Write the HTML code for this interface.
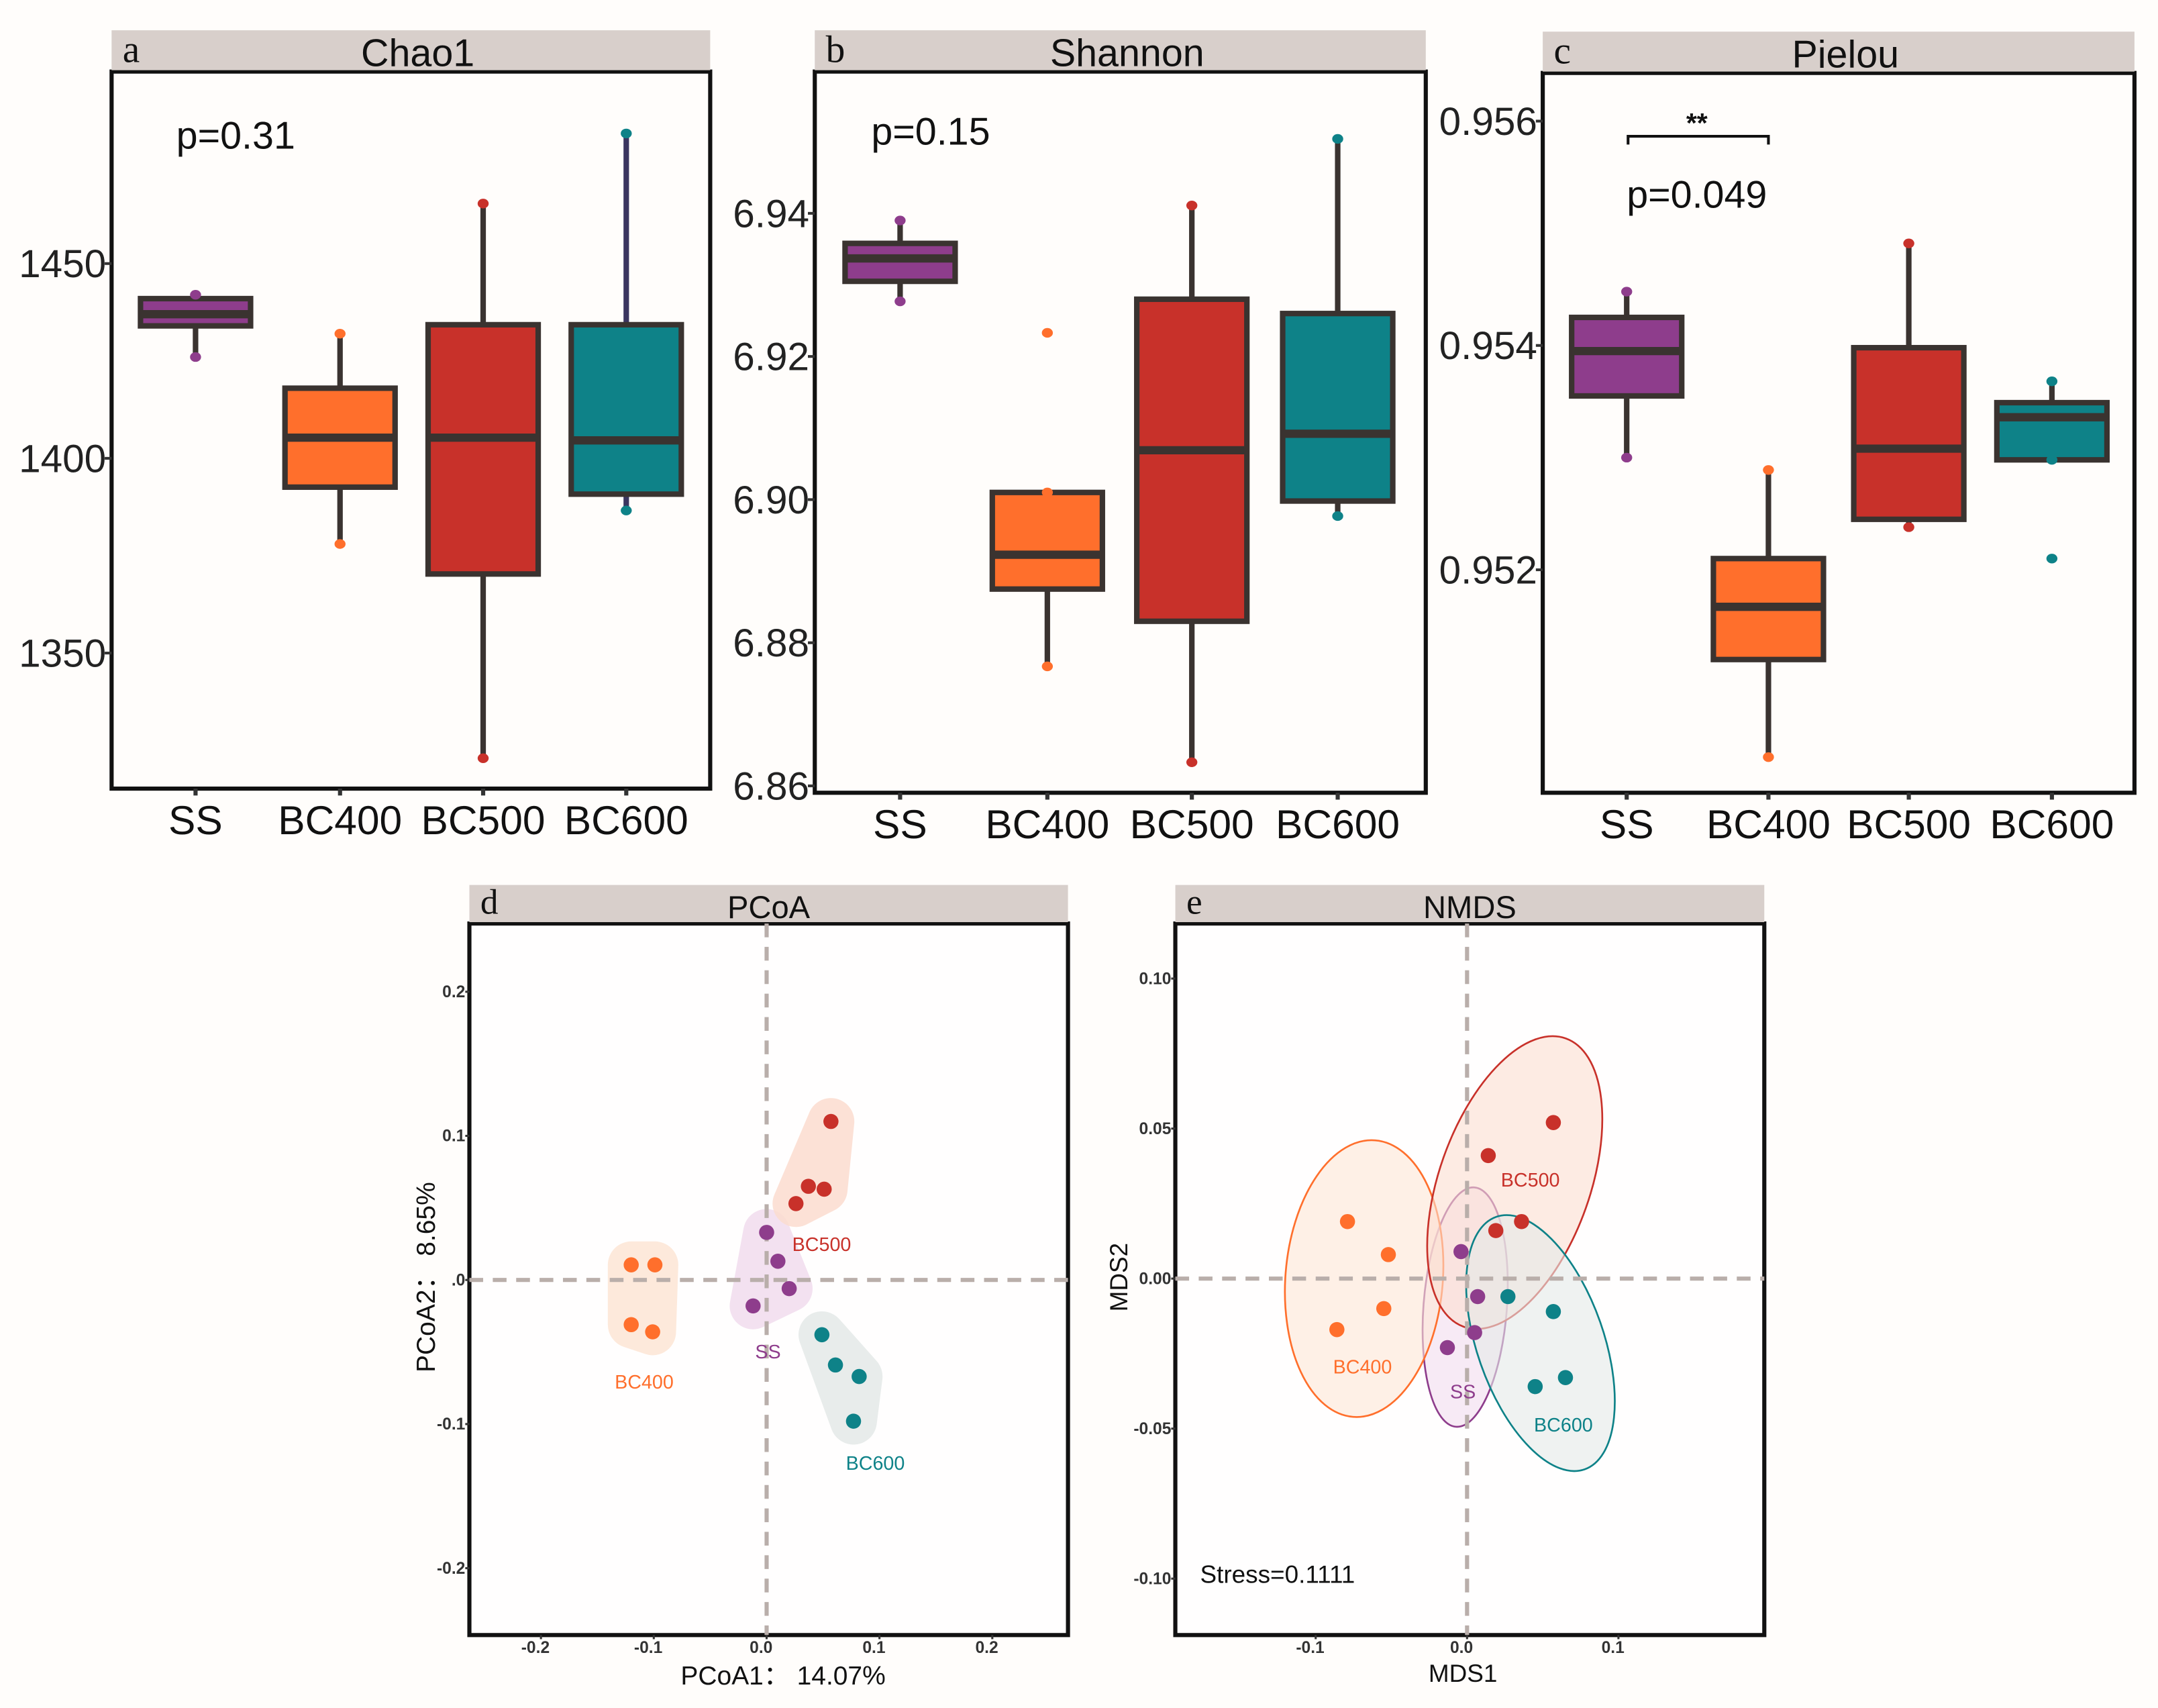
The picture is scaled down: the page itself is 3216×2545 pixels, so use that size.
<!DOCTYPE html>
<html><head><meta charset="utf-8">
<style>
html,body{margin:0;padding:0;background:#fffdfb;}
svg{display:block;font-family:"Liberation Sans",sans-serif;}
</style></head>
<body>
<svg id="fig" width="3216" height="2545" viewBox="0 0 1568 1241" xmlns="http://www.w3.org/2000/svg">
<rect x="0" y="0" width="1568" height="1241" fill="#fffdfb"/>
</svg>
<script>
// ---------- data ----------
const groups = ["SS","BC400","BC500","BC600"];
const colors = ["#8e3d8c","#ff6f2c","#c8312a","#0e8288"];
const hullFills = ["#f1dcee","#fde6d6","#fcddd0","#e4e9e8"];
// boxplot stats: [min, q1, median, q3, max]
const chaoStats = [[1426,1434,1437,1441,1442],[1378,1392.6,1405.3,1418,1432],[1323,1370.3,1405.3,1434.3,1465.4],[1386.6,1390.8,1404.6,1434.3,1483.4]];
const chaoTicks = [1350,1400,1450];
const shannonStats = [[6.9277,6.9305,6.9337,6.9358,6.939],[6.8767,6.8875,6.8923,6.901,6.901],[6.8633,6.883,6.9069,6.928,6.9411],[6.8977,6.8998,6.9092,6.926,6.9504]];
const shannonOutliers = [[],[6.9233],[],[]];
const shannonTicks = [6.86,6.88,6.90,6.92,6.94];
const pielouStats = [[0.9530,0.95355,0.95395,0.95425,0.95448],[0.95033,0.9512,0.95167,0.9521,0.95289],[0.95238,0.95245,0.95308,0.95398,0.95491],[0.95298,0.95298,0.95336,0.95349,0.95368]];
const pielouOutliers = [[],[],[],[0.9521]];
const pielouTicks = [0.952,0.954,0.956];
// PCoA points per group
const pcoaX = [[0.0,0.010,0.020,-0.012],[-0.120,-0.099,-0.120,-0.101],[0.057,0.037,0.051,0.026],[0.049,0.061,0.082,0.077]];
const pcoaY = [[0.033,0.013,-0.006,-0.018],[0.0105,0.0105,-0.031,-0.036],[0.110,0.065,0.063,0.053],[-0.038,-0.059,-0.067,-0.098]];
const pcoaTicks = [-0.2,-0.1,0.0,0.1,0.2];
// NMDS points per group
const nmdsX = [[-0.004,0.007,0.005,-0.013],[-0.079,-0.052,-0.055,-0.086],[0.057,0.014,0.036,0.019],[0.027,0.057,0.065,0.045]];
const nmdsY = [[0.009,-0.006,-0.018,-0.023],[0.019,0.008,-0.010,-0.017],[0.052,0.041,0.019,0.016],[-0.006,-0.011,-0.033,-0.036]];
const nmdsXTicks = [-0.1,0.0,0.1];
const nmdsYTicks = [-0.10,-0.05,0.00,0.05,0.10];

// ---------- helpers ----------
const svg = document.getElementById('fig');
const NS = "http://www.w3.org/2000/svg";
function mk(tag, attrs, parent){
  const e = document.createElementNS(NS, tag);
  for (const k in attrs) e.setAttribute(k, attrs[k]);
  (parent||svg).appendChild(e);
  return e;
}
function txt(x,y,s,size,extra,parent){
  const t = mk('text', Object.assign({x:x,y:y,'font-size':size,fill:'#111'}, extra||{}), parent);
  t.textContent = s;
  return t;
}
const STROKE = "#3a3330";

function strip(x0,x1,y0,y1,letter,title,big){
  const r = mk('rect',{x:x0,y:y0,width:x1-x0,height:y1-y0,fill:'#d8cfcb'});
  
  
  const l = txt(x0+8,y1-6,letter,big?28:26,{'font-family':'"Liberation Serif",serif'});
  
  
  const t = txt((x0+x1)/2+(big?5:0),y1-3,title,big?28:23,{'text-anchor':'middle'});
  
  
}

function boxPanel(cfg){
  const g = mk('g',{});
  
  
  strip(cfg.x0,cfg.x1,cfg.sy,cfg.y0-1,cfg.letter,cfg.title,true);
  const y = v => cfg.yRef + (v-cfg.vRef)*cfg.k;
  const fr = mk('rect',{x:cfg.x0,y:cfg.y0,width:cfg.x1-cfg.x0,height:cfg.y1-cfg.y0,fill:'#fffdfb',stroke:'#111','stroke-width':3},g);
  
  
  cfg.ticks.forEach(v=>{
    mk('line',{x1:cfg.x0-5,x2:cfg.x0,y1:y(v),y2:y(v),stroke:'#333','stroke-width':2},g);
    const t = txt(cfg.x0-4,y(v)+10,cfg.fmt(v),28.5,{'text-anchor':'end',fill:'#222'},g);
    
    
  });
  groups.forEach((name,i)=>{
    const cx = cfg.cx[i], s = cfg.stats[i], w = 40;
    const bg = mk('g',{},g);
    
    
    mk('line',{x1:cx,x2:cx,y1:y(s[0]),y2:y(s[4]),stroke:(cfg.name==='chao1'&&i===3)?'#3a3560':STROKE,'stroke-width':4},bg);
    mk('rect',{x:cx-w,y:y(s[3]),width:2*w,height:y(s[1])-y(s[3]),fill:colors[i],stroke:STROKE,'stroke-width':4},bg);
    mk('line',{x1:cx-w,x2:cx+w,y1:y(s[2]),y2:y(s[2]),stroke:STROKE,'stroke-width':6},bg);
    [s[0],s[4]].concat(cfg.out?cfg.out[i]:[]).forEach(v=>{
      const p = mk('ellipse',{cx:cx,cy:y(v),rx:4,ry:3.5,fill:colors[i]},bg);
      
      
    });
    mk('line',{x1:cx,x2:cx,y1:cfg.y1,y2:cfg.y1+5,stroke:'#333','stroke-width':3},g);
    const t = txt(cx,cfg.y1+33,name,29.5,{'text-anchor':'middle'},g);
    
    
  });
  return {g:g,y:y};
}

// panel a
const pa = boxPanel({name:'chao1',title:'Chao1',letter:'a',x0:81,x1:516,sy:22,y0:52,y1:573,yRef:333,vRef:1400,k:-141.5/50,
  ticks:chaoTicks,fmt:v=>String(v),stats:chaoStats,cx:[142,247,351,455]});
let t = txt(128,108,'p=0.31',28,{},pa.g);



// panel b
const pb = boxPanel({name:'shannon',title:'Shannon',letter:'b',x0:592,x1:1036,sy:22,y0:52,y1:576,yRef:363,vRef:6.90,k:-5200,
  ticks:shannonTicks,fmt:v=>v.toFixed(2),stats:shannonStats,out:shannonOutliers,cx:[654,761,866,972]});
t = txt(633,105,'p=0.15',28,{},pb.g);



// panel c
const pc = boxPanel({name:'pielou',title:'Pielou',letter:'c',x0:1121,x1:1551,sy:23,y0:53,y1:576,yRef:251,vRef:0.954,k:-163/0.002,
  ticks:pielouTicks,fmt:v=>v.toFixed(3),stats:pielouStats,out:pielouOutliers,cx:[1182,1285,1387,1491]});
mk('path',{d:'M1183,105 V99 H1285 V105',fill:'none',stroke:'#111','stroke-width':2},pc.g);
t = txt(1233,96,'**',20,{'text-anchor':'middle','font-weight':'bold'},pc.g);


t = txt(1182,151,'p=0.049',28,{},pc.g);



// ---------- scatter panels ----------
function hull(pts){
  pts = pts.slice().sort((a,b)=>a[0]-b[0]||a[1]-b[1]);
  const cr=(o,a,b)=>(a[0]-o[0])*(b[1]-o[1])-(a[1]-o[1])*(b[0]-o[0]);
  const lo=[],up=[];
  for(const p of pts){while(lo.length>=2&&cr(lo[lo.length-2],lo[lo.length-1],p)<=0)lo.pop();lo.push(p);}
  for(const p of pts.slice().reverse()){while(up.length>=2&&cr(up[up.length-2],up[up.length-1],p)<=0)up.pop();up.push(p);}
  return lo.slice(0,-1).concat(up.slice(0,-1));
}
function scatterFrame(cfg){
  const g = mk('g',{});
  
  
  strip(cfg.x0,cfg.x1,643,670,cfg.letter,cfg.title,false);
  const fr = mk('rect',{x:cfg.x0,y:cfg.y0,width:cfg.x1-cfg.x0,height:cfg.y1-cfg.y0,fill:'#fffefe',stroke:'#111','stroke-width':3},g);
  
  
  return g;
}
function dashes(g,X,Y,cfg){
  mk('line',{x1:cfg.x0,x2:cfg.x1,y1:Y(0),y2:Y(0),stroke:'#b9aeaa','stroke-width':3,'stroke-dasharray':'10,7'},g);
  mk('line',{x1:X(0),x2:X(0),y1:cfg.y0,y2:cfg.y1,stroke:'#b9aeaa','stroke-width':3,'stroke-dasharray':'10,7'},g);
}
function ticks(g,X,Y,cfg,xt,yt,xf,yf){
  xt.forEach(v=>{
    mk('line',{x1:X(v),x2:X(v),y1:cfg.y1,y2:cfg.y1+3,stroke:'#333','stroke-width':1.5},g);
    const tt=txt(X(v)-4,cfg.y1+13,xf(v),12,{'text-anchor':'middle','font-weight':'bold',fill:'#333'},g);
    
    
  });
  yt.forEach(v=>{
    mk('line',{x1:cfg.x0-3,x2:cfg.x0,y1:Y(v),y2:Y(v),stroke:'#333','stroke-width':1.5},g);
    const tt=txt(cfg.x0-3,Y(v)+4,yf(v),12,{'text-anchor':'end','font-weight':'bold',fill:'#333'},g);
    
    
  });
}

// PCoA
const dCfg = {name:'pcoa',title:'PCoA',letter:'d',x0:341,x1:776,y0:671,y1:1188};
const gd = scatterFrame(dCfg);
const Xd = v => 557 + v*820, Yd = v => 930 - v*1047;
groups.forEach((name,i)=>{
  const pts = pcoaX[i].map((x,j)=>[Xd(x),Yd(pcoaY[i][j])]);
  const h = hull(pts);
  const poly = mk('polygon',{points:h.map(p=>p.join(',')).join(' '),fill:hullFills[i],stroke:hullFills[i],'stroke-width':34,'stroke-linejoin':'round',opacity:0.85},gd);
  
  
});
dashes(gd,Xd,Yd,dCfg);
const dLabelPos = [[558,987],[468,1009],[597,909],[636,1068]];
groups.forEach((name,i)=>{
  pcoaX[i].forEach((x,j)=>{
    const c = mk('circle',{cx:Xd(x),cy:Yd(pcoaY[i][j]),r:5.5,fill:colors[i]},gd);
    
    
  });
  const tl = txt(dLabelPos[i][0],dLabelPos[i][1],name,14,{'text-anchor':'middle',fill:colors[i]},gd);
  
  
});
ticks(gd,Xd,Yd,dCfg,pcoaTicks,pcoaTicks,v=>v.toFixed(1),v=>v===0?'.0':v.toFixed(1));
t = txt(569,1224,'PCoA1：  14.07%',19,{'text-anchor':'middle'},gd);


t = txt(0,0,'PCoA2：  8.65%',19,{'text-anchor':'middle',transform:'translate(316,928) rotate(-90)'},gd);



// NMDS
const eCfg = {name:'nmds',title:'NMDS',letter:'e',x0:854,x1:1282,y0:671,y1:1188};
const ge = scatterFrame(eCfg);
const Xe = v => 1066 + v*1100, Ye = v => 929 - v*2180;
groups.forEach((name,i)=>{
  const pts = nmdsX[i].map((x,j)=>[Xe(x),Ye(nmdsY[i][j])]);
  const n = pts.length;
  const mx = pts.reduce((a,p)=>a+p[0],0)/n, my = pts.reduce((a,p)=>a+p[1],0)/n;
  let sxx=0,syy=0,sxy=0;
  pts.forEach(p=>{sxx+=(p[0]-mx)**2;syy+=(p[1]-my)**2;sxy+=(p[0]-mx)*(p[1]-my);});
  sxx/=n-1;syy/=n-1;sxy/=n-1;
  const tr=(sxx+syy)/2, d=Math.sqrt(((sxx-syy)/2)**2+sxy*sxy);
  const l1=tr+d, l2=Math.max(tr-d,1);
  const ang = Math.atan2(l1-sxx, sxy||1e-9)*180/Math.PI;
  const kf = 2.8;
  const el = mk('ellipse',{cx:mx,cy:my,rx:Math.sqrt(l1)*kf,ry:Math.sqrt(l2)*kf*1.1,transform:`rotate(${ang} ${mx} ${my})`,fill:hullFills[i],'fill-opacity':0.6,stroke:colors[i],'stroke-width':1.3},ge);
  
  
});
dashes(ge,Xe,Ye,eCfg);
const eLabelPos = [[1063,1016],[990,998],[1112,862],[1136,1040]];
groups.forEach((name,i)=>{
  nmdsX[i].forEach((x,j)=>{
    const c = mk('circle',{cx:Xe(x),cy:Ye(nmdsY[i][j]),r:5.5,fill:colors[i]},ge);
    
    
  });
  const tl = txt(eLabelPos[i][0],eLabelPos[i][1],name,14,{'text-anchor':'middle',fill:colors[i]},ge);
  
  
});
ticks(ge,Xe,Ye,eCfg,nmdsXTicks,nmdsYTicks,v=>v.toFixed(1),v=>v.toFixed(2));
t = txt(872,1150,'Stress=0.1111',18,{},ge);


t = txt(1063,1222,'MDS1',18,{'text-anchor':'middle'},ge);


t = txt(0,0,'MDS2',18,{'text-anchor':'middle',transform:'translate(819,928) rotate(-90)'},ge);


</script>
</body></html>
